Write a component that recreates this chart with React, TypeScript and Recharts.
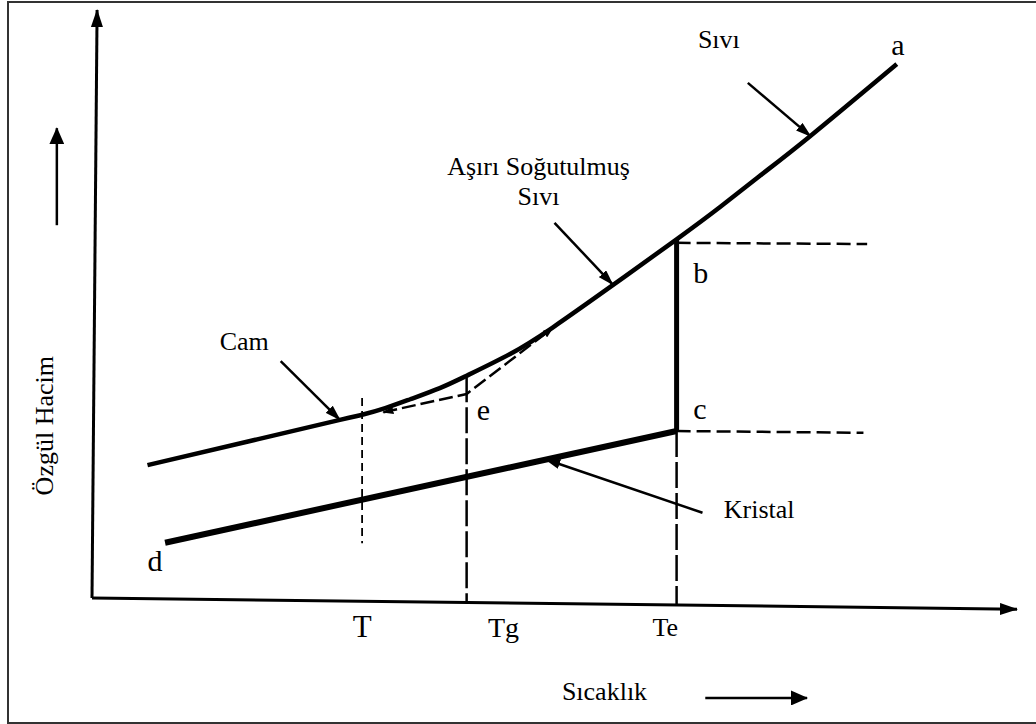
import { ComposedChart, Line, Scatter, XAxis, YAxis } from "recharts";

const W = 1036;
const H = 724;
// pixel placement of the axis origin and scale (px per unit)
const OX = 92;
const OY = 598;
const PX = 9.25;
const PY = 5.88;
const xDomain = [-OX / PX, (W - OX) / PX];
const yDomain = [-(H - OY) / PY, OY / PY];

const FONT = '"Liberation Serif", "Times New Roman", serif';

// temperature (x) / specific volume (y), arbitrary units 0..100
const curveTemp = [6.0, 17.1, 26.8, 29.3, 31.7, 34.4, 37.6, 40.5, 45.2, 49.8, 56.3, 63.2, 67.9, 72.2, 77.6, 87.0];
const curveVolume = [22.6, 26.7, 30.3, 31.2, 32.3, 33.8, 35.7, 37.8, 41.5, 46.0, 53.2, 61.0, 66.5, 71.8, 78.5, 90.8];

const crystalTemp = [7.9, 63.2];
const crystalVolume = [9.4, 28.4];

const meltTemp = [63.2, 63.2];
const meltVolume = [61.0, 28.4];

const bDashTemp = [63.2, 83.8];
const bDashVolume = [60.4, 60.2];
const cDashTemp = [63.2, 83.4];
const cDashVolume = [28.4, 28.1];

const teDashTemp = [63.2, 63.2];
const teDashVolume = [28.4, -1.2];
const tgDashTemp = [40.5, 40.5];
const tgDashVolume = [37.7, -0.9];
const tDashTemp = [29.2, 29.2];
const tDashVolume = [34.0, 9.3];

const glassTemp = [31.5, 40.5, 49.8];
const glassVolume = [31.6, 34.7, 45.9];

const yAxisTemp = [0, 0.55];
const yAxisVolume = [0, 100];
const xAxisTemp = [0, 100];
const xAxisVolume = [0, -1.9];

// annotation arrows: [fromX, toX], [fromY, toY]
const arrowSiviTemp = [70.9, 77.7];
const arrowSiviVolume = [87.6, 78.5];
const arrowAsiriTemp = [50.0, 56.3];
const arrowAsiriVolume = [63.8, 53.3];
const arrowCamTemp = [20.4, 26.8];
const arrowCamVolume = [40.3, 30.3];
const arrowKristalTemp = [66.0, 49.0];
const arrowKristalVolume = [14.5, 23.6];
const arrowUpTemp = [-3.8, -3.8];
const arrowUpVolume = [63.4, 79.9];
const arrowRightTemp = [66.3, 77.3];
const arrowRightVolume = [-17.0, -17.0];

const pointLabels = ["a", "b", "c", "d", "e"];
const pointLabelX = [86.4, 65.0, 65.0, 6.0, 41.6];
const pointLabelY = [92.4, 53.6, 30.4, 4.6, 30.3];

const tickLabels = ["T", "Tg", "Te"];
const tickLabelX = [28.2, 42.8, 60.6];
const tickLabelY = [-6.6, -6.6, -6.5];

const textLabels = ["Sıvı", "Aşırı Soğutulmuş", "Sıvı", "Cam", "Kristal", "Sıcaklık"];
const textLabelX = [65.5, 38.4, 46.0, 13.8, 68.3, 50.8];
const textLabelY = [93.5, 71.9, 66.8, 42.2, 13.6, -17.4];

const yTitle = "Özgül Hacim";
const yTitleX = -4.2;
const yTitleY = 29.3;

const pts = (xs: number[], ys: number[]) => xs.map((x, i) => ({ x, y: ys[i] }));
const labelPts = (labels: string[], xs: number[], ys: number[]) =>
  labels.map((label, i) => ({ x: xs[i], y: ys[i], label }));

const pointSize: Record<string, number> = { a: 30, b: 30, c: 30, d: 30, e: 30 };
const tickSize: Record<string, number> = { T: 31, Tg: 28, Te: 26 };

const common = {
  dot: false,
  activeDot: false,
  isAnimationActive: false,
  stroke: "#000",
  legendType: "none" as const,
};

const Markers = () => (
  <svg width={0} height={0} style={{ position: "absolute" }}>
    <defs>
      <marker id="axisHead" markerUnits="userSpaceOnUse" markerWidth={18} markerHeight={12} refX={17} refY={6} orient="auto">
        <path d="M0,0 L18,6 L0,12 z" fill="#000" />
      </marker>
      <marker id="noteHead" markerUnits="userSpaceOnUse" markerWidth={16} markerHeight={10} refX={15} refY={5} orient="auto">
        <path d="M0,0 L16,5 L0,10 z" fill="#000" />
      </marker>
      <marker id="bigHead" markerUnits="userSpaceOnUse" markerWidth={17} markerHeight={15} refX={16} refY={7.5} orient="auto">
        <path d="M0,0 L17,7.5 L0,15 z" fill="#000" />
      </marker>
      <marker id="smallHead" markerUnits="userSpaceOnUse" markerWidth={11} markerHeight={8} refX={10} refY={4} orient="auto-start-reverse">
        <path d="M0,0 L11,4 L0,8 z" fill="#000" />
      </marker>
    </defs>
  </svg>
);

const txt = (size: number) => ({ fontFamily: FONT, fontSize: size });

export default function App() {
  return (
    <div style={{ position: "absolute", left: 0, top: 0, width: W, height: H, background: "#fff" }}>
      <Markers />
      <div
        style={{
          position: "absolute",
          left: 7,
          top: 1,
          width: W - 7,
          height: H - 1,
          boxSizing: "border-box",
          borderLeft: "2px solid #333",
          borderTop: "2px solid #333",
          borderBottom: "2px solid #333",
        }}
      />
      <div style={{ position: "absolute", left: 0, top: 0 }}>
        <ComposedChart width={W} height={H} margin={{ top: 0, right: 0, bottom: 0, left: 0 }}>
          <XAxis type="number" dataKey="x" domain={xDomain} allowDataOverflow hide />
          <YAxis type="number" dataKey="y" domain={yDomain} allowDataOverflow hide />

          <Line {...common} data={pts(yAxisTemp, yAxisVolume)} dataKey="y" type="linear" strokeWidth={3} markerEnd="url(#axisHead)" />
          <Line {...common} data={pts(xAxisTemp, xAxisVolume)} dataKey="y" type="linear" strokeWidth={3} markerEnd="url(#axisHead)" />

          <Line {...common} data={pts(teDashTemp, teDashVolume)} dataKey="y" type="linear" strokeWidth={2.5} strokeDasharray="26 5" />
          <Line {...common} data={pts(tgDashTemp, tgDashVolume)} dataKey="y" type="linear" strokeWidth={2.5} strokeDasharray="26 5" />
          <Line {...common} data={pts(tDashTemp, tDashVolume)} dataKey="y" type="linear" strokeWidth={1.8} strokeDasharray="8 5" />
          <Line {...common} data={pts(bDashTemp, bDashVolume)} dataKey="y" type="linear" strokeWidth={2.5} strokeDasharray="14 6" />
          <Line {...common} data={pts(cDashTemp, cDashVolume)} dataKey="y" type="linear" strokeWidth={2.5} strokeDasharray="14 6" />
          <Line
            {...common}
            data={pts(glassTemp, glassVolume)}
            dataKey="y"
            type="linear"
            strokeWidth={2.5}
            strokeDasharray="14 5"
            markerStart="url(#smallHead)"
            markerEnd="url(#smallHead)"
          />

          <Line {...common} data={pts(curveTemp, curveVolume)} dataKey="y" type="natural" strokeWidth={4.5} />
          <Line {...common} data={pts(crystalTemp, crystalVolume)} dataKey="y" type="linear" strokeWidth={6} />
          <Line {...common} data={pts(meltTemp, meltVolume)} dataKey="y" type="linear" strokeWidth={5} />

          <Line {...common} data={pts(arrowSiviTemp, arrowSiviVolume)} dataKey="y" type="linear" strokeWidth={2.5} markerEnd="url(#noteHead)" />
          <Line {...common} data={pts(arrowAsiriTemp, arrowAsiriVolume)} dataKey="y" type="linear" strokeWidth={2.5} markerEnd="url(#noteHead)" />
          <Line {...common} data={pts(arrowCamTemp, arrowCamVolume)} dataKey="y" type="linear" strokeWidth={2.5} markerEnd="url(#noteHead)" />
          <Line {...common} data={pts(arrowKristalTemp, arrowKristalVolume)} dataKey="y" type="linear" strokeWidth={2.5} markerEnd="url(#noteHead)" />
          <Line {...common} data={pts(arrowUpTemp, arrowUpVolume)} dataKey="y" type="linear" strokeWidth={2.5} markerEnd="url(#bigHead)" />
          <Line {...common} data={pts(arrowRightTemp, arrowRightVolume)} dataKey="y" type="linear" strokeWidth={2.5} markerEnd="url(#bigHead)" />

          <Scatter
            data={labelPts(pointLabels, pointLabelX, pointLabelY)}
            isAnimationActive={false}
            legendType="none"
            shape={(p: any) => (
              <text x={p.cx} y={p.cy} style={txt(pointSize[p.payload.label])} fill="#000">
                {p.payload.label}
              </text>
            )}
          />
          <Scatter
            data={labelPts(tickLabels, tickLabelX, tickLabelY)}
            isAnimationActive={false}
            legendType="none"
            shape={(p: any) => (
              <text x={p.cx} y={p.cy} style={txt(tickSize[p.payload.label])} fill="#000">
                {p.payload.label}
              </text>
            )}
          />
          <Scatter
            data={labelPts(textLabels, textLabelX, textLabelY)}
            isAnimationActive={false}
            legendType="none"
            shape={(p: any) => (
              <text x={p.cx} y={p.cy} style={txt(26)} fill="#000">
                {p.payload.label}
              </text>
            )}
          />
          <Scatter
            data={labelPts([yTitle], [yTitleX], [yTitleY])}
            isAnimationActive={false}
            legendType="none"
            shape={(p: any) => (
              <text
                x={p.cx}
                y={p.cy}
                style={txt(26)}
                fill="#000"
                textAnchor="middle"
                transform={`rotate(-90 ${p.cx} ${p.cy})`}
              >
                {p.payload.label}
              </text>
            )}
          />
        </ComposedChart>
      </div>
    </div>
  );
}
